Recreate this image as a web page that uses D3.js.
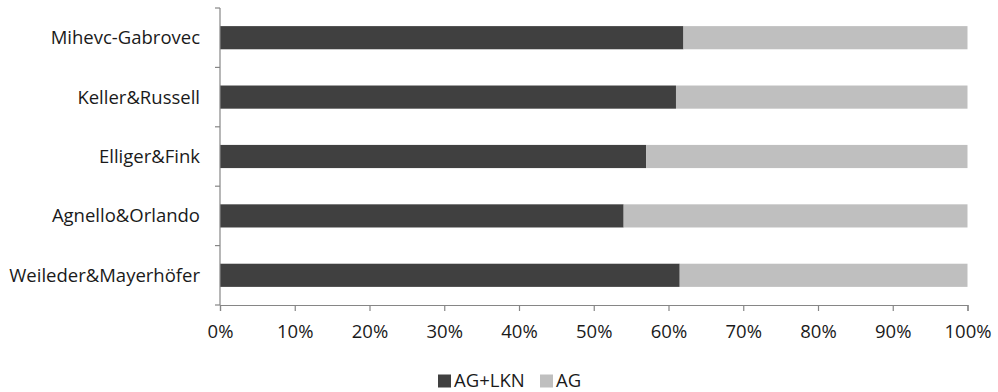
<!DOCTYPE html>
<html>
<head>
<meta charset="utf-8">
<script src="https://cdn.jsdelivr.net/npm/d3@7"></script>
<style>
  body { margin: 0; background: #fff; }
  text { font-family: "Open Sans", Lato, sans-serif; fill: #1a1a1a; }
</style>
</head>
<body>
<div id="graf"></div>
<script>
// datos
categorias = ['Mihevc-Gabrovec', 'Keller&Russell', 'Elliger&Fink', 'Agnello&Orlando', 'Weileder&Mayerhöfer']
agLkn = [62, 61, 57, 54, 61.5]
ag    = [38, 39, 43, 46, 38.5]
series = ['AG+LKN', 'AG']
ticksX = [0, 10, 20, 30, 40, 50, 60, 70, 80, 90, 100]

ancho_total = 998
alto_total = 392
margins = { top: 8, left: 220, right: 30.5, bottom: 87 }
ancho = ancho_total - margins.left - margins.right
alto  = alto_total - margins.top - margins.bottom
tamLetra = '18.5px'

svg = d3.select('#graf').append('svg')
  .attr('width', ancho_total)
  .attr('height', alto_total)

g = svg.append('g')
  .attr('transform', `translate(${margins.left}, ${margins.top})`)

// escaladores
x = d3.scaleLinear().domain([0, 100]).range([0, ancho])
y = d3.scaleBand().domain(categorias).range([0, alto]).paddingInner(0.61).paddingOuter(0.305)
color = d3.scaleOrdinal().domain(series).range(['#404040', '#bfbfbf'])

datos = categorias.map((c, i) => ({ cat: c, 'AG+LKN': agLkn[i], 'AG': ag[i] }))
apilado = d3.stack().keys(series)(datos)

g.selectAll('g.serie')
  .data(apilado)
  .join('g')
  .attr('class', 'serie')
  .attr('fill', d => color(d.key))
  .selectAll('rect')
  .data(d => d)
  .join('rect')
  .attr('x', d => x(d[0]))
  .attr('width', d => x(d[1]) - x(d[0]))
  .attr('y', d => y(d.data.cat))
  .attr('height', y.bandwidth())

// eje X
xAxis = g.append('g')
  .attr('transform', `translate(0, ${alto})`)
  .call(d3.axisBottom(x).tickValues(ticksX).tickFormat(d => d + '%').tickSize(6).tickPadding(14))
xAxis.selectAll('text').style('font-size', tamLetra)

// eje Y: marcas en los limites de las categorias
yAxis = g.append('g')
yAxis.append('line')
  .attr('x1', 0).attr('x2', 0).attr('y1', 0).attr('y2', alto)
bordes = d3.range(categorias.length + 1).map(i => i * alto / categorias.length)
yAxis.selectAll('line.tick')
  .data(bordes)
  .join('line')
  .attr('class', 'tick')
  .attr('x1', -5).attr('x2', 0)
  .attr('y1', d => d).attr('y2', d => d)
yAxis.selectAll('line').attr('stroke', '#868686').attr('stroke-width', 1.2)
yAxis.selectAll('text.cat')
  .data(categorias)
  .join('text')
  .attr('class', 'cat')
  .attr('x', -20)
  .attr('y', d => y(d) + y.bandwidth() / 2)
  .attr('dy', '0.35em')
  .attr('text-anchor', 'end')
  .style('font-size', tamLetra)
  .text(d => d)

xAxis.select('.domain').attr('stroke', '#868686').attr('stroke-width', 1.2)
xAxis.selectAll('.tick line').attr('stroke', '#868686').attr('stroke-width', 1.2)

// leyenda
leyenda = svg.append('g').attr('transform', 'translate(438, 381)')
posLeyenda = [0, 102]
series.forEach((s, i) => {
  item = leyenda.append('g').attr('transform', `translate(${posLeyenda[i]}, 0)`)
  item.append('rect').attr('x', 0).attr('y', -6.5).attr('width', 13).attr('height', 13).attr('fill', color(s))
  item.append('text').attr('x', 16).attr('dy', '0.33em').style('font-size', tamLetra).text(s)
})
</script>
</body>
</html>
